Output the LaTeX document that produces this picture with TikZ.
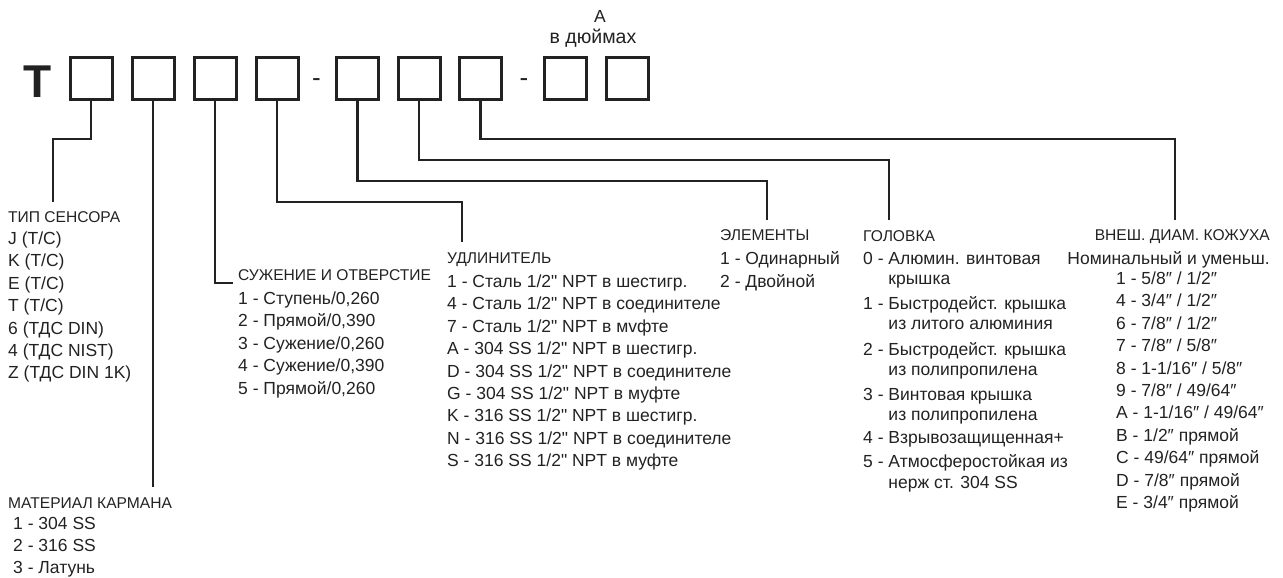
\documentclass[tikz,border=0pt]{standalone}
\usepackage{fontspec}
\setmainfont{Liberation Sans}[Ligatures=TeXOff]
\usepackage{tikz}

\definecolor{ink}{HTML}{222222}
\tikzset{
  cell/.style={draw=ink, line width=3pt, minimum width=42pt, minimum height=42pt, inner sep=0pt},
  wire/.style={draw=ink, line width=2.6pt},
  sep/.style={anchor=base, inner sep=0pt, text=ink, font=\fontsize{26}{26}\selectfont},
  head/.style={anchor=base west, inner sep=0pt, text=ink, font=\fontsize{15.6}{18}\selectfont},
  list/.style={anchor=north west, inner sep=0pt, align=left, text=ink, font=\fontsize{17.5}{22.4}\selectfont},
}

\begin{document}
\begin{tikzpicture}[x=1pt,y=-1pt]
\useasboundingbox (0,0) rectangle (1283,578);

% code line
\node[inner sep=0pt, text=ink, font=\fontsize{46}{46}\bfseries\selectfont] (lead) at (38,81.5) {T};
\node[cell] (b1) at (91,78.5) {};
\node[cell] (b2) at (153,78.5) {};
\node[cell] (b3) at (215,78.5) {};
\node[cell] (b4) at (277,78.5) {};
\node[sep] (s1) at (316.5,87) {-};
\node[cell] (b5) at (357.5,78.5) {};
\node[cell] (b6) at (419,78.5) {};
\node[cell] (b7) at (480.5,78.5) {};
\node[sep] (s2) at (524,87) {-};
\node[cell] (b8) at (565,78.5) {};
\node[cell] (b9) at (627,78.5) {};

\node[anchor=base, inner sep=0pt, text=ink, font=\fontsize{17.5}{17.5}\selectfont] (unitA) at (600,23) {A};
\node[anchor=base, inner sep=0pt, text=ink, font=\fontsize{19.5}{19.5}\selectfont] (unit) at (593,44) {в дюймах};

% line ends
\coordinate (sens) at (53,202);
\coordinate (pocket) at (153,487);
\coordinate (tip) at (233,283);
\coordinate (ext) at (462,242);
\coordinate (elem) at (767,220);
\coordinate (head) at (889,220);
\coordinate (sheath) at (1175,220);

\draw[wire] (b1.south) -- ++(0,38) -| (sens);
\draw[wire] (b2.south) -- (pocket);
\draw[wire] (b3.south) |- (tip);
\draw[wire] (b4.south) -- ++(0,101) -| (ext);
\draw[wire] (b5.south) -- ++(0,80) -| (elem);
\draw[wire] (b6.south) -- ++(0,59) -| (head);
\draw[wire] (b7.south) -- ++(0,38) -| (sheath);

% sensor type
\node[head] (sensT) at (8,222.4) {ТИП СЕНСОРА};
\node[list] (sensL) at (8,231.7) {J (T/C)\\K (T/C)\\E (T/C)\\T (T/C)\\6 (ТДС DIN)\\4 (ТДС NIST)\\Z (ТДС DIN 1K)};

% pocket material
\node[head] (pocketT) at (8,508.4) {МАТЕРИАЛ КАРМАНА};
\node[list] (pocketL) at (13,516.7) {1 - 304 SS\\2 - 316 SS\\3 - Латунь};

% tip
\node[head] (tipT) at (238,280.4) {СУЖЕНИЕ И ОТВЕРСТИЕ};
\node[list] (tipL) at (238,291.7) {1 - Ступень/0,260\\2 - Прямой/0,390\\3 - Сужение/0,260\\4 - Сужение/0,390\\5 - Прямой/0,260};

% extension
\node[head] (extT) at (447,263.4) {УДЛИНИТЕЛЬ};
\node[list] (extL) at (447,274.7) {1 - Сталь 1/2" NPT в шестигр.\\4 - Сталь 1/2" NPT в соединителе\\7 - Сталь 1/2" NPT в мvфте\\A - 304 SS 1/2" NPT в шестигр.\\D - 304 SS 1/2" NPT в соединителе\\G - 304 SS 1/2" NPT в муфте\\K - 316 SS 1/2" NPT в шестигр.\\N - 316 SS 1/2" NPT в соединителе\\S - 316 SS 1/2" NPT в муфте};

% elements
\node[head] (elemT) at (720,240.4) {ЭЛЕМЕНТЫ};
\node[list] (elemL) at (720,251.7) {1 - Одинарный\\2 - Двойной};

% head
\node[head] (headT) at (863,241.4) {ГОЛОВКА};
\node[anchor=north west, inner sep=0pt, text=ink] (headL) at (863,249.9) {\fontsize{17.5}{20.5}\selectfont
  \begin{tabular}[t]{@{}l@{ }l@{}}
  0 - & Алюмин. винтовая\\
      & крышка\\[4pt]
  1 - & Быстродейст. крышка\\
      & из литого алюминия\\[5pt]
  2 - & Быстродейст. крышка\\
      & из полипропилена\\[4pt]
  3 - & Винтовая крышка\\
      & из полипропилена\\[2.5pt]
  4 - & Взрывозащищенная+\\[3.5pt]
  5 - & Атмосферостойкая из\\
      & нерж ст. 304 SS
  \end{tabular}};

% sheath
\node[head, anchor=base east] (sheathT) at (1270,240.4) {ВНЕШ. ДИАМ. КОЖУХА};
\node[list, anchor=north east] (sheathN) at (1270,251.7) {Номинальный и уменьш.};
\node[list] (sheathL) at (1116,271.7) {1 - 5/8″ / 1/2″\\4 - 3/4″ / 1/2″\\6 - 7/8″ / 1/2″\\7 - 7/8″ / 5/8″\\8 - 1-1/16″ / 5/8″\\9 - 7/8″ / 49/64″\\A - 1-1/16″ / 49/64″\\B - 1/2″ прямой\\C - 49/64″ прямой\\D - 7/8″ прямой\\E - 3/4″ прямой};
\end{tikzpicture}
\end{document}
